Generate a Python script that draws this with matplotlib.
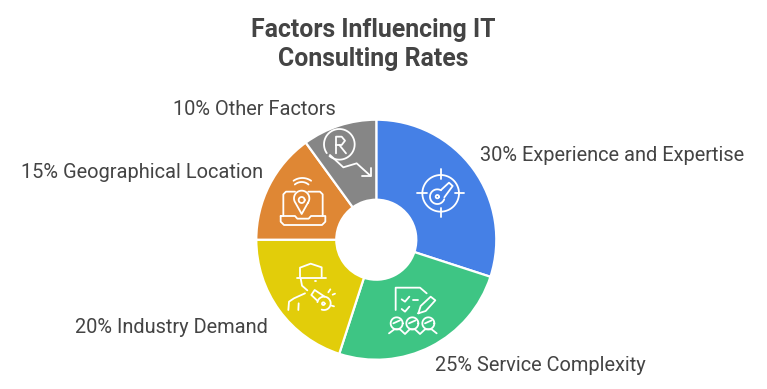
import numpy as np
import matplotlib
matplotlib.use("Agg")
import matplotlib.pyplot as plt

plt.rcParams["font.family"] = ["Roboto", "DejaVu Sans"]

W, H = 767, 389

names = ["Experience and Expertise", "Service Complexity", "Industry Demand",
         "Geographical Location", "Other Factors"]
shares = [30, 25, 20, 15, 10]
colors = ["#4580E6", "#3EC584", "#E2CD0A", "#DF8734", "#868686"]
title = "Factors Influencing IT\nConsulting Rates"

fig = plt.figure(figsize=(W / 100, H / 100), dpi=100)
ax = fig.add_axes([0, 0, 1, 1])

# pie in pixel coords, y goes up here
ax.pie(shares, colors=colors, center=(376.3, H - 239.7), radius=120, startangle=90,
       counterclock=False, wedgeprops=dict(width=80, edgecolor="white", linewidth=1.6))
ax.set_xlim(0, W)
ax.set_ylim(0, H)
ax.set_aspect("equal")
ax.axis("off")


def txt(x, y, s, **kw):
    ax.text(x, H - y, s, color="#444444", va="center", **kw)


txt(373.5, 44.5, title, fontsize=17.9, fontweight="bold", ha="center", linespacing=1.27)
txt(480, 155.8, f"{shares[0]}% {names[0]}", fontsize=14.45)
txt(435, 365.2, f"{shares[1]}% {names[1]}", fontsize=14.45)
txt(75, 327.7, f"{shares[2]}% {names[2]}", fontsize=14.45)
txt(21, 172.3, f"{shares[3]}% {names[3]}", fontsize=14.45)
txt(173, 109.2, f"{shares[4]}% {names[4]}", fontsize=14.45)


# icons, traced in 3x crop coords
def icon(ox, oy):
    def line(pts, closed=False):
        pts = np.array(pts, dtype=float)
        if closed:
            pts = np.vstack([pts, pts[0]])
        ax.plot(ox + pts[:, 0] / 3, H - (oy + pts[:, 1] / 3), color="white", lw=1.3,
                solid_capstyle="round", solid_joinstyle="round")

    def arc(cx, cy, r, a0=0, a1=360):
        t = np.radians(np.linspace(a0, a1, 60))
        line(np.column_stack([cx + r * np.cos(t), cy - r * np.sin(t)]))

    return line, arc


# blue: key in a target
line, arc = icon(375, 110)
arc(197, 250, 55)
line([(197, 178), (197, 207)])
line([(197, 293), (197, 320)])
line([(127, 250), (155, 250)])
line([(240, 250), (268, 250)])
arc(187, 260, 22, 60, 340)
arc(187, 260, 5)
line([(198, 240), (222, 218), (233, 228), (208, 262)])

# green: clipboard, pencil, people
line, arc = icon(375, 235)
line([(62, 225), (62, 158), (135, 158), (155, 175)])
line([(80, 193), (90, 200), (103, 185)])
line([(80, 222), (90, 230), (103, 215)])
line([(115, 194), (128, 194)])
line([(130, 235), (137, 213), (167, 185), (181, 196), (152, 228)], closed=True)
for cx in (65, 112, 160):
    arc(cx, 265, 18)
    line([(cx - 10, 265), (cx + 10, 256)])
line([(42, 295), (58, 283), (75, 283), (90, 297), (104, 283), (120, 283), (135, 297),
      (150, 283), (170, 283), (185, 295)])

# yellow: man with a whistle
line, arc = icon(250, 235)
line([(150, 125), (150, 98), (182, 86), (215, 97), (215, 125)])
line([(140, 128), (228, 128)])
line([(152, 130), (156, 152), (172, 166)])
line([(170, 138), (172, 138)])
line([(195, 138), (197, 138)])
line([(115, 225), (117, 200), (132, 190), (165, 175)])
line([(145, 225), (146, 205)])
arc(222, 205, 20, -110, 170)
line([(203, 198), (184, 180), (194, 165), (224, 185)])
arc(220, 206, 4)
line([(235, 172), (241, 163)])
line([(248, 179), (255, 176)])
line([(245, 212), (252, 214)])

# orange: laptop with a pin
line, arc = icon(250, 110)
line([(135, 245), (108, 245), (100, 253), (100, 318)])
line([(175, 245), (210, 245), (218, 253), (218, 318)])
line([(92, 318), (135, 318), (142, 326), (176, 326), (183, 318), (226, 318), (226, 335),
      (216, 345), (102, 345), (92, 335)], closed=True)
t = np.radians(np.linspace(-35, 215, 50))
line(np.vstack([np.column_stack([155 + 23 * np.cos(t), 265 - 23 * np.sin(t)]), [(155, 312)]]),
     closed=True)
arc(155, 270, 9)
arc(155, 248, 32, 50, 130)
arc(157, 250, 46, 55, 125)

# gray: R in a circle, falling arrow
line, arc = icon(250, 110)
arc(268, 103, 46, -130, 215)
line([(258, 130), (258, 80), (275, 80), (285, 92), (275, 105), (258, 105)])
line([(268, 105), (288, 130)])
line([(240, 135), (280, 172), (320, 160), (362, 198)])
line([(362, 175), (362, 198), (335, 198)])

fig.savefig("out.png", dpi=100)
